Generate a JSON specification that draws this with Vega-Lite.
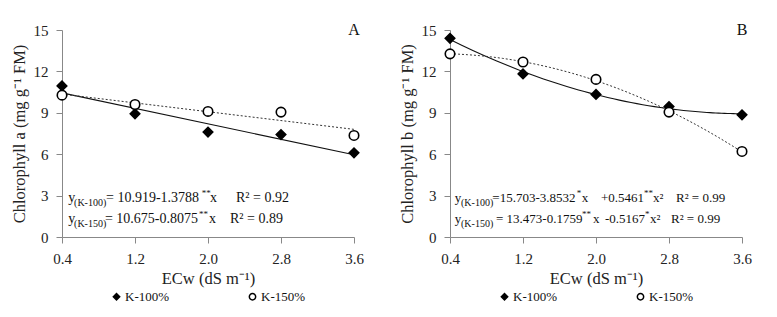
{
  "$schema": "https://vega.github.io/schema/vega-lite/v6.json",
  "padding": {"left": 11, "top": 22, "right": 5, "bottom": 5},
  "background": "white",
  "spacing": 35,
  "datasets": {
    "pts": [
      {"panel": "A", "series": "K-100%", "ecw": 0.4, "value": 10.95},
      {"panel": "A", "series": "K-100%", "ecw": 1.2, "value": 8.93},
      {"panel": "A", "series": "K-100%", "ecw": 2.0, "value": 7.6},
      {"panel": "A", "series": "K-100%", "ecw": 2.8, "value": 7.42},
      {"panel": "A", "series": "K-100%", "ecw": 3.6, "value": 6.1},
      {"panel": "A", "series": "K-150%", "ecw": 0.4, "value": 10.28},
      {"panel": "A", "series": "K-150%", "ecw": 1.2, "value": 9.6},
      {"panel": "A", "series": "K-150%", "ecw": 2.0, "value": 9.1},
      {"panel": "A", "series": "K-150%", "ecw": 2.8, "value": 9.05},
      {"panel": "A", "series": "K-150%", "ecw": 3.6, "value": 7.36},
      {"panel": "B", "series": "K-100%", "ecw": 0.4, "value": 14.4},
      {"panel": "B", "series": "K-100%", "ecw": 1.2, "value": 11.82},
      {"panel": "B", "series": "K-100%", "ecw": 2.0, "value": 10.33},
      {"panel": "B", "series": "K-100%", "ecw": 2.8, "value": 9.45},
      {"panel": "B", "series": "K-100%", "ecw": 3.6, "value": 8.85},
      {"panel": "B", "series": "K-150%", "ecw": 0.4, "value": 13.27},
      {"panel": "B", "series": "K-150%", "ecw": 1.2, "value": 12.68},
      {"panel": "B", "series": "K-150%", "ecw": 2.0, "value": 11.42},
      {"panel": "B", "series": "K-150%", "ecw": 2.8, "value": 9.05},
      {"panel": "B", "series": "K-150%", "ecw": 3.6, "value": 6.2}
    ],
    "eq": [
      {"panel": "A", "role": "main", "ecw": 0.469, "value": 2.51, "text": "y"},
      {"panel": "A", "role": "sub", "ecw": 0.532, "value": 2.51, "text": "(K-100)"},
      {"panel": "A", "role": "main", "ecw": 0.882, "value": 2.51, "text": "= 10.919-1.3788"},
      {"panel": "A", "role": "sup", "ecw": 1.931, "value": 2.51, "text": "**"},
      {"panel": "A", "role": "main", "ecw": 2.022, "value": 2.51, "text": "x"},
      {"panel": "A", "role": "main", "ecw": 2.307, "value": 2.51, "text": "R² = 0.92"},
      {"panel": "A", "role": "main", "ecw": 0.469, "value": 0.99, "text": "y"},
      {"panel": "A", "role": "sub", "ecw": 0.532, "value": 0.99, "text": "(K-150)"},
      {"panel": "A", "role": "main", "ecw": 0.871, "value": 0.99, "text": "= 10.675-0.8075"},
      {"panel": "A", "role": "sup", "ecw": 1.901, "value": 0.99, "text": "**"},
      {"panel": "A", "role": "main", "ecw": 2.011, "value": 0.99, "text": "x"},
      {"panel": "A", "role": "main", "ecw": 2.241, "value": 0.99, "text": "R² = 0.89"},
      {"panel": "A", "role": "label", "ecw": 3.6, "value": 15, "text": "A"},
      {"panel": "B", "role": "main", "ecw": 0.452, "value": 2.55, "text": "y"},
      {"panel": "B", "role": "sub", "ecw": 0.521, "value": 2.55, "text": "(K-100)"},
      {"panel": "B", "role": "main", "ecw": 0.864, "value": 2.55, "text": "=15.703-3.8532"},
      {"panel": "B", "role": "sup", "ecw": 1.79, "value": 2.55, "text": "*"},
      {"panel": "B", "role": "main", "ecw": 1.845, "value": 2.55, "text": "x"},
      {"panel": "B", "role": "main", "ecw": 2.055, "value": 2.55, "text": "+0.5461"},
      {"panel": "B", "role": "sup", "ecw": 2.525, "value": 2.55, "text": "**"},
      {"panel": "B", "role": "main", "ecw": 2.624, "value": 2.55, "text": "x²"},
      {"panel": "B", "role": "main", "ecw": 2.877, "value": 2.55, "text": "R² = 0.99"},
      {"panel": "B", "role": "main", "ecw": 0.452, "value": 1.03, "text": "y"},
      {"panel": "B", "role": "sub", "ecw": 0.521, "value": 1.03, "text": "(K-150)"},
      {"panel": "B", "role": "main", "ecw": 0.904, "value": 1.03, "text": "= 13.473-0.1759"},
      {"panel": "B", "role": "sup", "ecw": 1.846, "value": 1.03, "text": "**"},
      {"panel": "B", "role": "main", "ecw": 1.967, "value": 1.03, "text": "x"},
      {"panel": "B", "role": "main", "ecw": 2.099, "value": 1.03, "text": "-0.5167"},
      {"panel": "B", "role": "sup", "ecw": 2.537, "value": 1.03, "text": "*"},
      {"panel": "B", "role": "main", "ecw": 2.591, "value": 1.03, "text": "x²"},
      {"panel": "B", "role": "main", "ecw": 2.822, "value": 1.03, "text": "R² = 0.99"},
      {"panel": "B", "role": "label", "ecw": 3.6, "value": 15, "text": "B"}
    ]
  },
  "hconcat": [
    {
      "width": 292,
      "height": 207,
      "encoding": {
        "x": {"field": "ecw", "type": "quantitative", "scale": {"domain": [0.4, 3.6], "nice": false, "zero": false}, "axis": {"values": [0.4, 1.2, 2.0, 2.8, 3.6], "format": ".1f", "title": "ECw (dS m⁻¹)"}},
        "y": {"field": "value", "type": "quantitative", "scale": {"domain": [0, 15], "nice": false}, "axis": {"values": [0, 3, 6, 9, 12, 15], "title": "Chlorophyll a (mg g⁻¹ FM)"}}
      },
      "layer": [
        {
          "data": {"name": "pts"},
          "transform": [{"filter": "datum.panel === 'A' && datum.series === 'K-100%'"}, {"regression": "value", "on": "ecw", "method": "linear"}],
          "mark": {"type": "line", "color": "#111", "strokeWidth": 1.1}
        },
        {
          "data": {"name": "pts"},
          "transform": [{"filter": "datum.panel === 'A' && datum.series === 'K-150%'"}, {"regression": "value", "on": "ecw", "method": "linear"}],
          "mark": {"type": "line", "color": "#333", "strokeWidth": 1, "strokeDash": [2, 2]}
        },
        {
          "data": {"name": "pts"},
          "transform": [{"filter": "datum.panel === 'A'"}],
          "mark": {"type": "point", "filled": true, "stroke": "black", "strokeWidth": 1.6, "opacity": 1, "size": 90},
          "encoding": {
            "shape": {"field": "series", "type": "nominal", "scale": {"domain": ["K-100%", "K-150%"], "range": ["diamond", "circle"]}, "legend": {"title": null, "orient": "bottom", "direction": "horizontal"}},
            "color": {"field": "series", "type": "nominal", "scale": {"domain": ["K-100%", "K-150%"], "range": ["black", "white"]}, "legend": {"title": null, "orient": "bottom", "direction": "horizontal"}}
          }
        },
        {
          "data": {"name": "eq"},
          "transform": [{"filter": "datum.panel === 'A' && datum.role === 'main'"}],
          "mark": {"type": "text", "align": "left", "baseline": "alphabetic", "fontSize": 14, "color": "#111"},
          "encoding": {"text": {"field": "text"}}
        },
        {
          "data": {"name": "eq"},
          "transform": [{"filter": "datum.panel === 'A' && datum.role === 'sub'"}],
          "mark": {"type": "text", "align": "left", "baseline": "alphabetic", "fontSize": 10, "dy": 4, "color": "#111"},
          "encoding": {"text": {"field": "text"}}
        },
        {
          "data": {"name": "eq"},
          "transform": [{"filter": "datum.panel === 'A' && datum.role === 'sup'"}],
          "mark": {"type": "text", "align": "left", "baseline": "alphabetic", "fontSize": 9, "dy": -6, "color": "#111"},
          "encoding": {"text": {"field": "text"}}
        },
        {
          "data": {"name": "eq"},
          "transform": [{"filter": "datum.panel === 'A' && datum.role === 'label'"}],
          "mark": {"type": "text", "align": "center", "baseline": "middle", "fontSize": 16, "color": "#111"},
          "encoding": {"text": {"field": "text"}}
        }
      ]
    },
    {
      "width": 292,
      "height": 207,
      "encoding": {
        "x": {"field": "ecw", "type": "quantitative", "scale": {"domain": [0.4, 3.6], "nice": false, "zero": false}, "axis": {"values": [0.4, 1.2, 2.0, 2.8, 3.6], "format": ".1f", "title": "ECw (dS m⁻¹)"}},
        "y": {"field": "value", "type": "quantitative", "scale": {"domain": [0, 15], "nice": false}, "axis": {"values": [0, 3, 6, 9, 12, 15], "title": "Chlorophyll b (mg g⁻¹ FM)"}}
      },
      "layer": [
        {
          "data": {"name": "pts"},
          "transform": [{"filter": "datum.panel === 'B' && datum.series === 'K-100%'"}, {"regression": "value", "on": "ecw", "method": "poly", "order": 2}],
          "mark": {"type": "line", "color": "#111", "strokeWidth": 1.1}
        },
        {
          "data": {"name": "pts"},
          "transform": [{"filter": "datum.panel === 'B' && datum.series === 'K-150%'"}, {"regression": "value", "on": "ecw", "method": "poly", "order": 2}],
          "mark": {"type": "line", "color": "#333", "strokeWidth": 1, "strokeDash": [2, 2]}
        },
        {
          "data": {"name": "pts"},
          "transform": [{"filter": "datum.panel === 'B'"}],
          "mark": {"type": "point", "filled": true, "stroke": "black", "strokeWidth": 1.6, "opacity": 1, "size": 90},
          "encoding": {
            "shape": {"field": "series", "type": "nominal", "scale": {"domain": ["K-100%", "K-150%"], "range": ["diamond", "circle"]}, "legend": {"title": null, "orient": "bottom", "direction": "horizontal"}},
            "color": {"field": "series", "type": "nominal", "scale": {"domain": ["K-100%", "K-150%"], "range": ["black", "white"]}, "legend": {"title": null, "orient": "bottom", "direction": "horizontal"}}
          }
        },
        {
          "data": {"name": "eq"},
          "transform": [{"filter": "datum.panel === 'B' && datum.role === 'main'"}],
          "mark": {"type": "text", "align": "left", "baseline": "alphabetic", "fontSize": 13, "color": "#111"},
          "encoding": {"text": {"field": "text"}}
        },
        {
          "data": {"name": "eq"},
          "transform": [{"filter": "datum.panel === 'B' && datum.role === 'sub'"}],
          "mark": {"type": "text", "align": "left", "baseline": "alphabetic", "fontSize": 10, "dy": 4, "color": "#111"},
          "encoding": {"text": {"field": "text"}}
        },
        {
          "data": {"name": "eq"},
          "transform": [{"filter": "datum.panel === 'B' && datum.role === 'sup'"}],
          "mark": {"type": "text", "align": "left", "baseline": "alphabetic", "fontSize": 9, "dy": -6, "color": "#111"},
          "encoding": {"text": {"field": "text"}}
        },
        {
          "data": {"name": "eq"},
          "transform": [{"filter": "datum.panel === 'B' && datum.role === 'label'"}],
          "mark": {"type": "text", "align": "center", "baseline": "middle", "fontSize": 16, "color": "#111"},
          "encoding": {"text": {"field": "text"}}
        }
      ]
    }
  ],
  "resolve": {
    "scale": {"shape": "independent", "color": "independent", "x": "independent", "y": "independent"}
  },
  "config": {
    "font": "Liberation Serif",
    "view": {"stroke": null},
    "axis": {
      "grid": false,
      "domainColor": "#888",
      "tickColor": "#888",
      "tickSize": 6,
      "labelPadding": 8,
      "labelColor": "#222",
      "labelFontSize": 15,
      "titleFontSize": 16.5,
      "titleFontWeight": "normal",
      "titleColor": "#222"
    },
    "axisY": {"titlePadding": 6},
    "axisX": {"titlePadding": 4, "labelFlush": false},
    "legend": {
      "labelFontSize": 13,
      "labelColor": "#111",
      "symbolSize": 40,
      "symbolStrokeWidth": 1.5,
      "symbolStrokeColor": "black",
      "columnPadding": 76,
      "labelOffset": 2,
      "offset": 3,
      "layout": {"bottom": {"anchor": "middle"}}
    }
  }
}
